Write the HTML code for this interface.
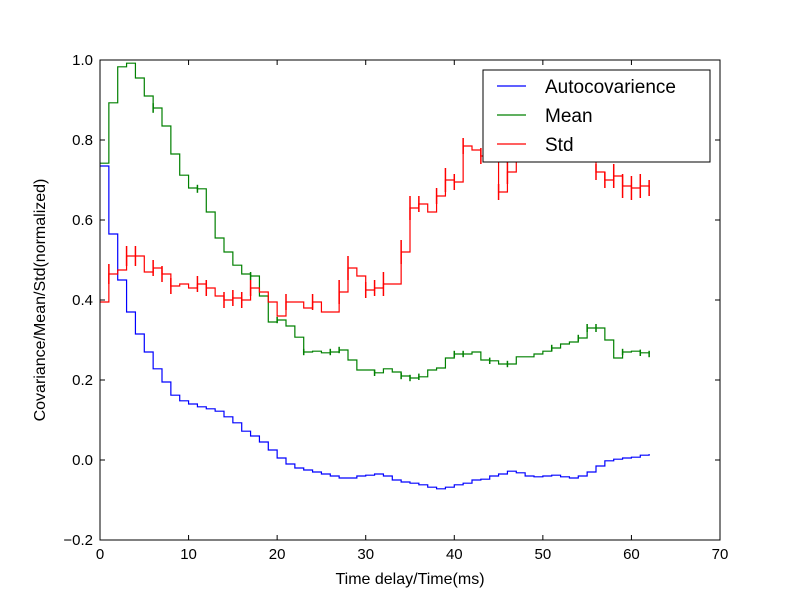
<!DOCTYPE html>
<html><head><meta charset="utf-8"><style>
body{margin:0;background:#fff}
svg{display:block;font-family:"Liberation Sans","DejaVu Sans",sans-serif}
</style></head><body>
<svg id="chart" width="800" height="600">
<rect x="0" y="0" width="800" height="600" fill="#fff"/>
<g id="plot"></g>
</svg>
<script>
const xTicks=[0,10,20,30,40,50,60,70];
const yTicks=[-0.2,0.0,0.2,0.4,0.6,0.8,1.0];
const yTickLabels=["\u22120.2","0.0","0.2","0.4","0.6","0.8","1.0"];
const autocov=[0.735,0.565,0.45,0.37,0.315,0.27,0.228,0.195,0.162,0.148,0.14,0.133,0.128,0.122,0.108,0.093,0.072,0.06,0.045,0.025,0.005,-0.01,-0.02,-0.025,-0.03,-0.035,-0.04,-0.045,-0.045,-0.04,-0.038,-0.035,-0.04,-0.05,-0.055,-0.058,-0.062,-0.068,-0.072,-0.068,-0.062,-0.058,-0.05,-0.048,-0.04,-0.035,-0.028,-0.032,-0.04,-0.042,-0.04,-0.038,-0.042,-0.045,-0.04,-0.03,-0.015,-0.002,0.002,0.005,0.007,0.012,0.015];
const meanVals=[0.742,0.893,0.983,0.992,0.955,0.91,0.88,0.835,0.765,0.712,0.68,0.678,0.62,0.555,0.52,0.487,0.465,0.46,0.41,0.345,0.35,0.335,0.307,0.27,0.272,0.268,0.27,0.275,0.25,0.225,0.225,0.218,0.228,0.22,0.21,0.205,0.208,0.225,0.23,0.255,0.265,0.265,0.27,0.25,0.248,0.24,0.24,0.258,0.258,0.265,0.272,0.28,0.29,0.295,0.305,0.33,0.33,0.3,0.255,0.27,0.272,0.268,0.265];
const meanErr=[0,0,0,0,0,0,0.012,0,0,0,0,0.01,0,0,0,0,0,0.01,0,0,0.008,0,0,0.008,0,0,0.008,0.008,0,0,0,0.008,0,0,0.008,0.008,0.008,0,0,0,0.008,0.008,0,0,0.008,0,0.008,0,0,0,0,0.008,0,0,0.008,0.01,0.01,0,0,0.008,0,0.008,0.008];
const stdVals=[0.395,0.465,0.475,0.51,0.51,0.47,0.48,0.465,0.435,0.44,0.43,0.44,0.43,0.41,0.4,0.405,0.4,0.43,0.42,0.395,0.36,0.395,0.395,0.38,0.395,0.37,0.37,0.42,0.48,0.46,0.425,0.43,0.44,0.44,0.52,0.63,0.64,0.62,0.66,0.7,0.695,0.785,0.775,0.76,0.775,0.67,0.72,0.78,0.8,0.805,0.81,0.8,0.8,0.8,0.78,0.76,0.72,0.7,0.71,0.685,0.68,0.685,0.68];
const stdErr=[0,0.025,0,0.025,0.025,0,0.02,0.02,0.02,0,0,0.02,0.02,0,0.02,0.02,0.02,0.02,0,0,0,0.02,0,0,0.02,0,0,0.03,0.03,0,0.02,0.02,0.03,0,0.03,0.03,0.02,0,0.02,0.03,0.02,0.02,0,0.02,0.02,0.02,0.03,0.02,0.02,0.02,0,0.02,0,0,0.02,0,0.02,0.02,0.03,0.03,0.03,0.03,0.02];
const seriesNames=["Autocovarience","Mean","Std"];
const colors=["#0000ff","#008000","#ff0000"];

const X0=100,X1=720,Y0=540,Y1=60,xmin=0,xmax=70,ymin=-0.2,ymax=1.0;
const sx=v=>X0+(v-xmin)/(xmax-xmin)*(X1-X0);
const sy=v=>Y0-(v-ymin)/(ymax-ymin)*(Y0-Y1);
const NS="http://www.w3.org/2000/svg";
const g=document.getElementById('plot');
function mk(t,a,p){const e=document.createElementNS(NS,t);for(const k in a)e.setAttribute(k,a[k]);(p||g).appendChild(e);return e;}

function stepPath(vals){let d="";vals.forEach((v,i)=>{if(i===0)d+=`M${sx(0)},${sy(v)}`;else d+=`H${sx(i)}V${sy(v)}`;});return d;}
function drawSeries(vals,err,color,name){
  const p=mk('path',{d:stepPath(vals),fill:'none',stroke:color,'stroke-width':1.2});
  
  
  if(err){vals.forEach((v,i)=>{if(err[i]>0){const l=mk('line',{x1:sx(i),x2:sx(i),y1:sy(v-err[i]),y2:sy(v+err[i]),stroke:color,'stroke-width':1.5});
    
    }});}
}
drawSeries(autocov,null,colors[0],'autocovarience');
drawSeries(meanVals,meanErr,colors[1],'mean');
drawSeries(stdVals,stdErr,colors[2],'std');

const frame=mk('rect',{x:X0,y:Y1,width:X1-X0,height:Y0-Y1,fill:'none',stroke:'#000','stroke-width':1});


xTicks.forEach(t=>{const x=sx(t);
  mk('line',{x1:x,x2:x,y1:Y0,y2:Y0-5,stroke:'#000'});mk('line',{x1:x,x2:x,y1:Y1,y2:Y1+5,stroke:'#000'});
  const tx=mk('text',{x:x,y:Y0+19,'text-anchor':'middle','font-size':15});tx.textContent=t;
  
  });
yTicks.forEach((t,i)=>{const y=sy(t);
  mk('line',{x1:X0,x2:X0+5,y1:y,y2:y,stroke:'#000'});mk('line',{x1:X1,x2:X1-5,y1:y,y2:y,stroke:'#000'});
  const tx=mk('text',{x:X0-7,y:y+5,'text-anchor':'end','font-size':15});tx.textContent=yTickLabels[i];
  
  });
const xt=mk('text',{x:410,y:584,'text-anchor':'middle','font-size':16});xt.textContent="Time delay/Time(ms)";


const yt=mk('text',{x:45,y:300,'text-anchor':'middle','font-size':16,transform:'rotate(-90 45 300)'});yt.textContent="Covariance/Mean/Std(normalized)";



const lg=mk('g',{});


mk('rect',{x:483,y:70,width:227,height:92,fill:'#fff',stroke:'#000','stroke-width':1},lg);
seriesNames.forEach((n,i)=>{const y=86+i*29;
  mk('line',{x1:497,x2:526,y1:y,y2:y,stroke:colors[i],'stroke-width':1.2},lg);
  const t=mk('text',{x:545,y:y+7,'font-size':19},lg);t.textContent=n;
  
  });
</script>
</body></html>
